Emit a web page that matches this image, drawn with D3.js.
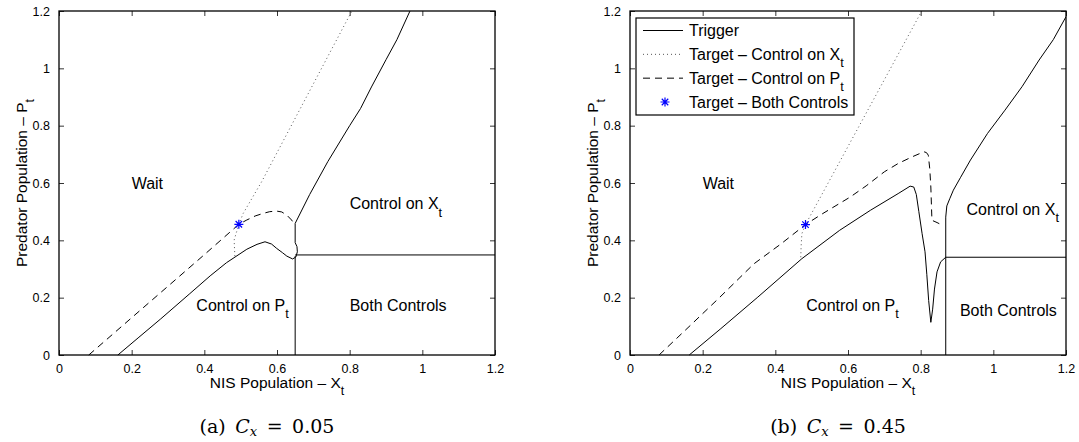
<!DOCTYPE html>
<html>
<head>
<meta charset="utf-8">
<script src="https://cdn.jsdelivr.net/npm/d3@7"></script>
<style>
  body { margin: 0; background: #fff; }
  text { font-family: "Liberation Sans", Arial, Helvetica, sans-serif; fill: #000; }
  text.caption { font-family: "DejaVu Serif", "Liberation Serif", serif; }
</style>
</head>
<body>
<div id="chart"></div>
<script>
// axis ticks, shared by both panels
const ticks = [0, 0.2, 0.4, 0.6, 0.8, 1, 1.2];
const tickLabels = ["0", "0.2", "0.4", "0.6", "0.8", "1", "1.2"];

// ---- panel (a) Cx = 0.05 ----
const triggerA = [[0.162,0],[0.22,0.062],[0.28,0.126],[0.36,0.214],[0.416,0.276],[0.461,0.322],
  [0.517,0.369],[0.545,0.386],[0.567,0.395],[0.585,0.387],[0.599,0.372],[0.615,0.357],[0.627,0.345],
  [0.643,0.335],[0.652,0.342],[0.656,0.36],[0.655,0.378],[0.65,0.392],[0.65,0.459]];
const triggerUpperA = [[0.65,0.459],[0.69,0.56],[0.74,0.675],[0.8,0.8],[0.83,0.86],[0.86,0.935],
  [0.9,1.03],[0.93,1.1],[0.966,1.2]];
const bothVertA = [[0.65,0],[0.65,0.345]];
const bothHorizA = [[0.65,0.349],[1.2,0.349]];
const targetXA = [[0.484,0.345],[0.482,0.401],[0.495,0.456],[0.507,0.494],[0.558,0.605],[0.806,1.2]];
const targetPA = [[0.082,0],[0.2,0.13],[0.3,0.24],[0.4,0.35],[0.495,0.456],[0.517,0.471],[0.54,0.485],
  [0.562,0.494],[0.58,0.5],[0.599,0.502],[0.613,0.499],[0.627,0.488],[0.64,0.471],[0.645,0.462]];
const starA = [0.495, 0.456];
const regionsA = [
  { x: 0.2, y: 0.578, main: "Wait", sub: "" },
  { x: 0.8, y: 0.508, main: "Control on X", sub: "t" },
  { x: 0.378, y: 0.155, main: "Control on P", sub: "t" },
  { x: 0.8, y: 0.153, main: "Both Controls", sub: "" }
];

// ---- panel (b) Cx = 0.45 ----
const triggerB = [[0.163,0],[0.25,0.092],[0.35,0.2],[0.473,0.336],[0.577,0.435],[0.662,0.505],
  [0.738,0.563],[0.771,0.589],[0.781,0.586],[0.788,0.56],[0.795,0.5],[0.804,0.423],[0.812,0.36],
  [0.817,0.28],[0.822,0.19],[0.828,0.114],[0.833,0.16],[0.838,0.23],[0.845,0.29],[0.855,0.325],
  [0.869,0.341]];
const triggerUpperB = [[0.869,0.481],[0.872,0.52],[0.88,0.545],[0.89,0.575],[0.91,0.62],[0.937,0.68],
  [0.984,0.773],[1.032,0.854],[1.079,0.936],[1.126,1.029],[1.165,1.1],[1.2,1.18]];
const bothVertB = [[0.869,0],[0.869,0.481]];
const bothHorizB = [[0.869,0.341],[1.2,0.341]];
const targetXB = [[0.47,0.341],[0.471,0.38],[0.473,0.423],[0.483,0.455],[0.803,1.2]];
const targetPB = [[0.08,0],[0.151,0.085],[0.246,0.2],[0.341,0.318],[0.416,0.388],[0.483,0.455],
  [0.53,0.493],[0.606,0.551],[0.65,0.59],[0.7,0.639],[0.738,0.668],[0.776,0.691],[0.809,0.709],
  [0.816,0.706],[0.821,0.697],[0.825,0.65],[0.828,0.586],[0.831,0.47],[0.845,0.462],[0.861,0.452]];
const starB = [0.483, 0.455];
const regionsB = [
  { x: 0.2, y: 0.578, main: "Wait", sub: "" },
  { x: 0.926, y: 0.49, main: "Control on X", sub: "t" },
  { x: 0.485, y: 0.153, main: "Control on P", sub: "t" },
  { x: 0.908, y: 0.1375, main: "Both Controls", sub: "" }
];

const legendItems = [
  { main: "Trigger", sub: "", style: "solid" },
  { main: "Target \u2013 Control on X", sub: "t", style: "dotted" },
  { main: "Target \u2013 Control on P", sub: "t", style: "dashed" },
  { main: "Target \u2013 Both Controls", sub: "", style: "star" }
];

const width = 1079;
const height = 442;
const plotW = 436;
const plotH = 344;
const plotTop = 11;
const starBlue = "#0000ff";

const svg = d3.select("#chart")
  .append("svg")
  .attr("width", width)
  .attr("height", height)
  .attr("viewBox", `0 0 ${width} ${height}`);

// text with an optional subscript, MATLAB style
const subText = (g, x, y, main, sub, size, anchor) => {
  const t = g.append("text")
    .attr("x", x)
    .attr("y", y)
    .attr("font-size", size)
    .attr("text-anchor", anchor || "start");
  t.append("tspan").text(main);
  if (sub) {
    t.append("tspan")
      .attr("dy", size * 0.45)
      .attr("font-size", size * 0.8)
      .text(sub);
  }
  return t;
};

const styleLine = (path, style) => {
  path.attr("fill", "none").attr("stroke-width", 1);
  if (style === "dotted") {
    path.attr("stroke", "#555").attr("stroke-dasharray", "1,3");
  } else if (style === "dashed") {
    path.attr("stroke", "#000").attr("stroke-dasharray", "7,5");
  } else {
    path.attr("stroke", "#000");
  }
  return path;
};

const drawStar = (g, cx, cy) => {
  const r = 4.5;
  g.append("path")
    .attr("d", `M${cx - r},${cy}H${cx + r}M${cx},${cy - r}V${cy + r}` +
      `M${cx - r * 0.72},${cy - r * 0.72}L${cx + r * 0.72},${cy + r * 0.72}` +
      `M${cx - r * 0.72},${cy + r * 0.72}L${cx + r * 0.72},${cy - r * 0.72}`)
    .attr("stroke", starBlue)
    .attr("stroke-width", 1.2)
    .attr("fill", "none");
};

const drawPanel = (left, p) => {
  const g = svg.append("g").attr("transform", `translate(${left}, ${plotTop})`);

  const xScale = d3.scaleLinear().domain([0, 1.2]).range([0, plotW]);
  const yScale = d3.scaleLinear().domain([0, 1.2]).range([plotH, 0]);

  // axes: ticks inward on all four sides, labels on left/bottom
  const fmt = (d, i) => tickLabels[i];
  const bottomAxis = d3.axisBottom(xScale).tickValues(ticks).tickFormat(fmt).tickSizeInner(-5).tickSizeOuter(0).tickPadding(9);
  const leftAxis = d3.axisLeft(yScale).tickValues(ticks).tickFormat(fmt).tickSizeInner(-5).tickSizeOuter(0).tickPadding(9);
  const topAxis = d3.axisTop(xScale).tickValues(ticks).tickFormat("").tickSizeInner(-5).tickSizeOuter(0);
  const rightAxis = d3.axisRight(yScale).tickValues(ticks).tickFormat("").tickSizeInner(-5).tickSizeOuter(0);

  g.append("g").attr("class", "axis-x").attr("transform", `translate(0, ${plotH})`).call(bottomAxis);
  g.append("g").attr("class", "axis-y").call(leftAxis);
  g.append("g").attr("class", "axis-top").call(topAxis);
  g.append("g").attr("class", "axis-right").attr("transform", `translate(${plotW}, 0)`).call(rightAxis);

  g.selectAll(".tick line").attr("stroke", "#000").attr("stroke-width", 0.8);
  g.selectAll(".domain").remove();
  g.selectAll(".tick text").attr("font-size", 12.5).attr("font-family", "Liberation Sans, Arial, sans-serif").attr("fill", "#000");
  g.selectAll(".axis-x .tick text").attr("dy", "0.71em");

  const line = d3.line().x(d => xScale(d[0])).y(d => yScale(d[1]));

  styleLine(g.append("path").attr("d", line(p.targetX)), "dotted");
  styleLine(g.append("path").attr("d", line(p.targetP)), "dashed");
  styleLine(g.append("path").attr("d", line(p.trigger)), "solid");
  styleLine(g.append("path").attr("d", line(p.triggerUpper)), "solid");
  styleLine(g.append("path").attr("d", line(p.bothVert)), "solid");
  styleLine(g.append("path").attr("d", line(p.bothHoriz)), "solid");

  drawStar(g, xScale(p.star[0]), yScale(p.star[1]));

  p.regions.forEach(r => subText(g, xScale(r.x), yScale(r.y), r.main, r.sub, 16));

  // box
  g.append("rect")
    .attr("width", plotW)
    .attr("height", plotH)
    .attr("fill", "none")
    .attr("stroke", "#000")
    .attr("stroke-width", 1.3);

  // axis titles
  subText(g, plotW / 2, plotH + 33, "NIS Population \u2013 X", "t", 15.5, "middle");
  const yl = g.append("g").attr("transform", `translate(${-32}, ${plotH / 2}) rotate(-90)`);
  subText(yl, 0, 0, "Predator Population \u2013 P", "t", 15.5, "middle");

  // caption
  const cap = svg.append("text")
    .attr("class", "caption")
    .attr("x", left + plotW / 2 - 10)
    .attr("y", 433)
    .attr("font-size", 19)
    .attr("text-anchor", "middle");
  cap.append("tspan").text(`(${p.tag})\u2002`);
  cap.append("tspan").attr("font-style", "italic").text("C");
  cap.append("tspan").attr("font-style", "italic").attr("font-size", 13).attr("dy", 3).text("x");
  cap.append("tspan").attr("dy", -3).text(`\u2002=\u2002${p.cx}`);

  return g;
};

drawPanel(59, {
  tag: "a", cx: "0.05",
  trigger: triggerA, triggerUpper: triggerUpperA, bothVert: bothVertA, bothHoriz: bothHorizA,
  targetX: targetXA, targetP: targetPA, star: starA, regions: regionsA
});

const gB = drawPanel(630, {
  tag: "b", cx: "0.45",
  trigger: triggerB, triggerUpper: triggerUpperB, bothVert: bothVertB, bothHoriz: bothHorizB,
  targetX: targetXB, targetP: targetPB, star: starB, regions: regionsB
});

// legend (panel b only)
const legend = gB.append("g").attr("transform", "translate(6, 7)");
legend.append("rect")
  .attr("width", 218)
  .attr("height", 97)
  .attr("fill", "#fff")
  .attr("stroke", "#000")
  .attr("stroke-width", 1.2);

const rowY = d3.scalePoint().domain(legendItems.map(d => d.main)).range([12.5, 84]);
legendItems.forEach(item => {
  const y = rowY(item.main);
  if (item.style === "star") {
    drawStar(legend, 29, y);
  } else {
    styleLine(legend.append("path").attr("d", `M7,${y}H47`), item.style);
  }
  subText(legend, 53, y + 5.5, item.main, item.sub, 16);
});
</script>
</body>
</html>
